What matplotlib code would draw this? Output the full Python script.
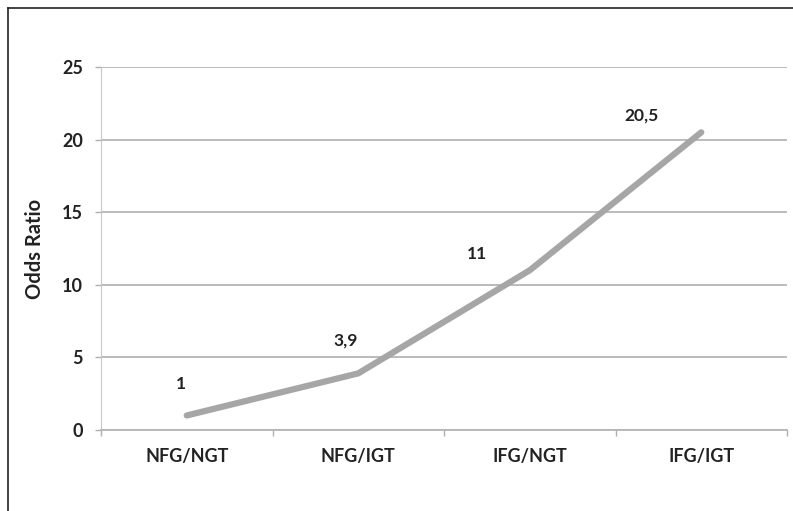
import matplotlib.pyplot as plt

# Data
kategorier = ['NFG/NGT', 'NFG/IGT', 'IFG/NGT', 'IFG/IGT']
odds_ratio = [1, 3.9, 11, 20.5]
etiketter = ['1', '3,9', '11', '20,5']
y_ticks = [0, 5, 10, 15, 20, 25]

plt.rcParams['font.family'] = ['Lato', 'DejaVu Sans']

fig = plt.figure(figsize=(7.93, 5.11), dpi=100)
ax = fig.add_axes([101 / 793, 1 - 430 / 511, 686 / 793, 363 / 511])

x = [i + 0.5 for i in range(len(kategorier))]
ax.plot(x, odds_ratio, color='#a6a6a6', linewidth=4.5, solid_capstyle='round',
        solid_joinstyle='round', zorder=3)

# label offsets (points) relative to each data point
offsets = [(-4, 23), (-9, 24), (-38, 12), (-43, 12)]
for xi, yi, txt, off in zip(x, odds_ratio, etiketter, offsets):
    ax.annotate(txt, (xi, yi), xytext=off, textcoords='offset points',
                ha='center', va='center', fontsize=12.5, fontweight='bold',
                color='#222222')

ax.set_xlim(0, 4)
ax.set_ylim(0, 25)
ax.set_yticks(y_ticks)
ax.set_xticks(x)
ax.set_xticklabels(kategorier)
ax.set_xticks(range(5), minor=True)
ax.tick_params(axis='x', which='major', length=0, pad=13, labelsize=13, labelcolor='#222222')
ax.tick_params(axis='x', which='minor', length=4, color='#b0b0b0', width=1)
ax.tick_params(axis='y', length=4, color='#b0b0b0', width=1, pad=9, labelsize=13, labelcolor='#222222')
for lab in ax.get_xticklabels() + ax.get_yticklabels():
    lab.set_fontweight('bold')

ax.yaxis.grid(True, color='#b5b5b5', linewidth=1.3)
ax.set_axisbelow(True)
for s in ['top', 'right']:
    ax.spines[s].set_visible(False)
ax.spines['left'].set_color('#c8c8c8')
ax.spines['bottom'].set_color('#b5b5b5')
ax.spines['bottom'].set_linewidth(1.3)

ax.set_ylabel('Odds Ratio', fontsize=14.5, fontweight='bold', color='#222222', labelpad=12)

# outer frame
fig.add_artist(plt.Line2D([8 / 793, 8 / 793], [0, 1 - 8 / 511], transform=fig.transFigure, color='#222222', linewidth=1.2))
fig.add_artist(plt.Line2D([8 / 793, 1], [1 - 8 / 511, 1 - 8 / 511], transform=fig.transFigure, color='#222222', linewidth=1.2))

fig.savefig('out.png', dpi=100)
